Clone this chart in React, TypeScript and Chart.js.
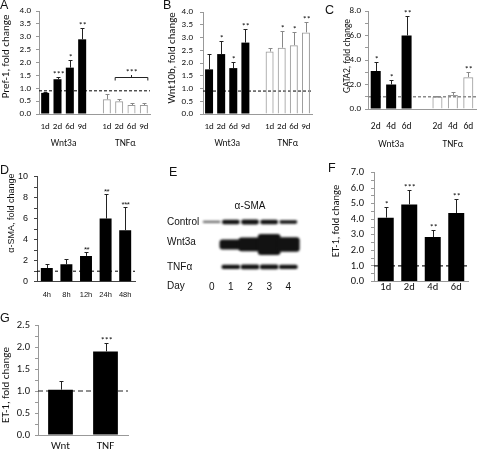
import React, { useEffect, useRef } from 'react';
import { Chart, registerables } from 'chart.js';
Chart.register(...registerables);

const CAL = 'Carlito, Lato, "Open Sans", sans-serif';
const HEL = '"Liberation Sans", Arial, Helvetica, sans-serif';

// ---------- Panel A: Pref-1 ----------
const aDays = ['1d', '2d', '6d', '9d'];
const aWnt = [0.82, 1.35, 1.8, 2.9];
const aWntErr = [0.85, 1.42, 2.1, 3.35];
const aWntStars = ['', '***', '*', '**'];
const aTnf = [0.57, 0.5, 0.35, 0.35];
const aTnfErr = [0.78, 0.58, 0.42, 0.42];
const aTnfStars = ['', '', '', ''];
const aBaseline = 0.9;
const aBracketValue = 1.42;
const aBracketStars = '***';

// ---------- Panel B: Wnt10b ----------
const bDays = ['1d', '2d', '6d', '9d'];
const bWnt = [1.75, 2.35, 1.8, 2.8];
const bWntErr = [2.35, 2.85, 2.05, 3.35];
const bWntStars = ['', '*', '*', '**'];
const bTnf = [2.45, 2.6, 2.7, 3.2];
const bTnfErr = [2.6, 3.25, 3.2, 3.6];
const bTnfStars = ['', '*', '*', '**'];
const bBaseline = 0.9;

// ---------- Panel C: GATA2 ----------
const cDays = ['2d', '4d', '6d'];
const cWnt = [3.1, 2.0, 6.0];
const cWntErr = [3.8, 2.35, 7.6];
const cWntStars = ['*', '*', '**'];
const cTnf = [1.0, 1.15, 2.6];
const cTnfErr = [1.05, 1.35, 3.05];
const cTnfStars = ['', '', '**'];
const cBaseline = 1.0;

// ---------- Panel D: alpha-SMA ----------
const dTimes = ['4h', '8h', '12h', '24h', '48h'];
const dSma = [1.3, 1.65, 2.45, 6.0, 4.9];
const dSmaErr = [1.7, 2.2, 2.85, 8.3, 7.1];
const dStars = ['', '', '**', '**', '***'];
const dBaseline = 1.0;

// ---------- Panel E: western blot (band thickness, row units) ----------
const eLanes = [0, 1, 2, 3, 4];
const eRows = ['Control', 'Wnt3a', 'TNFα'];
const eControl = [0.07, 0.17, 0.19, 0.17, 0.13];
const eWnt3a = [0, 0.42, 0.58, 0.9, 0.62];
const eTnf = [0, 0.16, 0.18, 0.18, 0.16];

// ---------- Panel F: ET-1 (Wnt3a time course) ----------
const fDays = ['1d', '2d', '4d', '6d'];
const fEt1 = [4.1, 4.95, 2.85, 4.4];
const fEt1Err = [4.8, 5.9, 3.3, 5.3];
const fStars = ['*', '***', '**', '**'];
const fBaseline = 1.0;

// ---------- Panel G: ET-1 ----------
const gGroups = ['Wnt', 'TNF'];
const gEt1 = [1.03, 1.9];
const gEt1Err = [1.22, 2.1];
const gStars = ['', '***'];
const gBaseline = 1.0;

type Spec = {
  box: [number, number, number, number];
  padTop: number; padRight: number; yWidth: number; xHeight: number;
  labels: string[]; values: (number | null)[]; errs: (number | null)[];
  stars: string[]; open: boolean[];
  yMax: number; yStep: number; labelEvery: number; decimals: number; yPad: number;
  baseline: number; baseColor: string; baseDash: number[]; baseWidth: number;
  barPct: number; font: string; tickSize: number; xSize: number; xPad: number;
  titleSize: number; starSize: number; title: string; titleX: number; titleDy: number;
  axisColor: string; textColor: string;
  groups?: { label: string; from: number; to: number }[]; groupDy?: number; groupSize?: number;
  bracket?: { from: number; to: number; value: number; label: string };
};

const gap = <T,>(a: T[], b: T[], g: T): T[] => [...a, g, ...b];

const specA: Spec = {
  box: [0, 0, 155, 150], padTop: 11, padRight: 5, yWidth: 39, xHeight: 36,
  labels: gap(aDays, aDays, ''), values: gap<number | null>(aWnt, aTnf, null),
  errs: gap<number | null>(aWntErr, aTnfErr, null), stars: gap(aWntStars, aTnfStars, ''),
  open: gap(aWnt.map(() => false), aTnf.map(() => true), false),
  yMax: 4, yStep: 0.5, labelEvery: 0.5, decimals: 1, yPad: 5,
  baseline: aBaseline, baseColor: '#000', baseDash: [3, 2], baseWidth: 1,
  barPct: 0.65, font: CAL, tickSize: 9, xSize: 9, xPad: 7, titleSize: 11, starSize: 9,
  title: 'Pref-1, fold change', titleX: 6, titleDy: -6, axisColor: '#999', textColor: '#111',
  groups: [{ label: 'Wnt3a', from: 0, to: 3 }, { label: 'TNFα', from: 5, to: 8 }], groupDy: 30, groupSize: 9.5,
  bracket: { from: 6, to: 8, value: aBracketValue, label: aBracketStars },
};

const specB: Spec = {
  box: [158, 0, 160, 150], padTop: 12, padRight: 6, yWidth: 45, xHeight: 36,
  labels: gap(bDays, bDays, ''), values: gap<number | null>(bWnt, bTnf, null),
  errs: gap<number | null>(bWntErr, bTnfErr, null), stars: gap(bWntStars, bTnfStars, ''),
  open: gap(bWnt.map(() => false), bTnf.map(() => true), false),
  yMax: 4, yStep: 0.5, labelEvery: 0.5, decimals: 1, yPad: 7,
  baseline: bBaseline, baseColor: '#000', baseDash: [3, 2], baseWidth: 1,
  barPct: 0.66, font: CAL, tickSize: 9, xSize: 9, xPad: 7, titleSize: 10.8, starSize: 9,
  title: 'Wnt10b, fold change', titleX: 14, titleDy: -5, axisColor: '#999', textColor: '#111',
  groups: [{ label: 'Wnt3a', from: 0, to: 3 }, { label: 'TNFα', from: 5, to: 8 }], groupDy: 30, groupSize: 9.5,
};

const specC: Spec = {
  box: [318, 0, 159, 150], padTop: 11, padRight: 1, yWidth: 50, xHeight: 41,
  labels: gap(cDays, cDays, ''), values: gap<number | null>(cWnt, cTnf, null),
  errs: gap<number | null>(cWntErr, cTnfErr, null), stars: gap(cWntStars, cTnfStars, ''),
  open: gap(cWnt.map(() => false), cTnf.map(() => true), false),
  yMax: 8, yStep: 1, labelEvery: 2, decimals: 1, yPad: 4,
  baseline: cBaseline, baseColor: '#8a8a8a', baseDash: [3, 2], baseWidth: 1.5,
  barPct: 0.65, font: CAL, tickSize: 9, xSize: 9.5, xPad: 12, titleSize: 9.5, starSize: 9,
  title: 'GATA2, fold change', titleX: 30, titleDy: -4, axisColor: '#999', textColor: '#111',
  groups: [{ label: 'Wnt3a', from: 0, to: 2 }, { label: 'TNFα', from: 4, to: 6 }], groupDy: 36, groupSize: 9.5,
};

const specD: Spec = {
  box: [0, 150, 158, 150], padTop: 26.5, padRight: 23, yWidth: 37, xHeight: 18.3,
  labels: dTimes, values: dSma, errs: dSmaErr, stars: dStars, open: dSma.map(() => false),
  yMax: 10, yStep: 1, labelEvery: 2, decimals: 0, yPad: 6,
  baseline: dBaseline, baseColor: '#000', baseDash: [3, 3], baseWidth: 1,
  barPct: 0.61, font: HEL, tickSize: 9, xSize: 7.5, xPad: 8.5, titleSize: 9, starSize: 8,
  title: 'α-SMA, fold change', titleX: 12, titleDy: -16, axisColor: '#444', textColor: '#111',
};

const specF: Spec = {
  box: [318, 150, 159, 150], padTop: 22.5, padRight: 9, yWidth: 56, xHeight: 18.5,
  labels: fDays, values: fEt1, errs: fEt1Err, stars: fStars, open: fEt1.map(() => false),
  yMax: 7, yStep: 0.5, labelEvery: 1, decimals: 1, yPad: 7,
  baseline: fBaseline, baseColor: '#222', baseDash: [5, 3], baseWidth: 1.2,
  barPct: 0.68, font: CAL, tickSize: 10.5, xSize: 10.5, xPad: 0, titleSize: 10.5, starSize: 9,
  title: 'ET-1, fold change', titleX: 18.7, titleDy: -6, axisColor: '#999', textColor: '#111',
};

const specG: Spec = {
  box: [0, 300, 160, 152], padTop: 25, padRight: 32, yWidth: 38, xHeight: 17,
  labels: gGroups, values: gEt1, errs: gEt1Err, stars: gStars, open: gEt1.map(() => false),
  yMax: 2.5, yStep: 0.25, labelEvery: 0.5, decimals: 1, yPad: 5,
  baseline: gBaseline, baseColor: '#222', baseDash: [5, 3], baseWidth: 1.2,
  barPct: 0.55, font: CAL, tickSize: 10.5, xSize: 11, xPad: 5, titleSize: 11, starSize: 9,
  title: 'ET-1, fold change', titleX: 6, titleDy: 5, axisColor: '#999', textColor: '#111',
};

const isMult = (v: number, m: number) => Math.abs(v / m - Math.round(v / m)) < 1e-6;

function BarPanel({ spec }: { spec: Spec }) {
  const ref = useRef<HTMLCanvasElement>(null);
  useEffect(() => {
    const s = spec;
    const starText = (ctx: any, text: string, px: number, py: number) => {
      ctx.fillStyle = s.textColor; ctx.font = `${s.starSize}px ${s.font}`;
      ctx.textAlign = 'center'; ctx.textBaseline = 'alphabetic';
      try { ctx.letterSpacing = '-0.5px'; } catch (e) { /* ignore */ }
      ctx.fillText(text, px, py);
      try { ctx.letterSpacing = '0px'; } catch (e) { /* ignore */ }
    };
    const overlay = {
      id: 'overlay',
      beforeDatasetsDraw(chart: any) {
        const { ctx, chartArea: ca } = chart;
        const py = chart.scales.y.getPixelForValue(s.baseline);
        ctx.save();
        ctx.strokeStyle = s.baseColor; ctx.lineWidth = s.baseWidth; ctx.setLineDash(s.baseDash);
        ctx.beginPath(); ctx.moveTo(ca.left, py); ctx.lineTo(ca.right, py); ctx.stroke();
        ctx.restore();
      },
      afterDatasetsDraw(chart: any) {
        const { ctx } = chart;
        const x = chart.scales.x, y = chart.scales.y;
        const slot = x.getPixelForValue(1) - x.getPixelForValue(0);
        const half = (slot * s.barPct) / 2;
        ctx.save();
        ctx.lineWidth = 1;
        s.values.forEach((v, i) => {
          const e = s.errs[i];
          if (v == null || e == null) return;
          const px = Math.round(x.getPixelForValue(i)) + 0.5;
          const y0 = y.getPixelForValue(v), y1 = Math.round(y.getPixelForValue(e)) + 0.5;
          ctx.strokeStyle = s.open[i] ? '#888' : '#222';
          ctx.beginPath(); ctx.moveTo(px, y0); ctx.lineTo(px, y1);
          ctx.moveTo(px - 2, y1); ctx.lineTo(px + 2, y1); ctx.stroke();
          if (s.stars[i]) starText(ctx, s.stars[i], px, y1 - 1);
        });
        if (s.bracket) {
          const b = s.bracket;
          const x1 = x.getPixelForValue(b.from) - half, x2 = x.getPixelForValue(b.to) + half;
          const py = Math.round(y.getPixelForValue(b.value)) + 0.5;
          const mid = (x1 + x2) / 2;
          ctx.strokeStyle = '#222';
          ctx.beginPath();
          ctx.moveTo(x1, py + 3); ctx.lineTo(x1, py); ctx.lineTo(x2, py); ctx.lineTo(x2, py + 3);
          ctx.moveTo(mid, py); ctx.lineTo(mid, py - 2.5);
          ctx.stroke();
          starText(ctx, b.label, mid, py - 3);
        }
        ctx.restore();
      },
      afterDraw(chart: any) {
        const { ctx, chartArea: ca } = chart;
        const x = chart.scales.x;
        ctx.save();
        ctx.fillStyle = s.textColor;
        if (s.groups) {
          ctx.font = `${s.groupSize}px ${s.font}`;
          ctx.textAlign = 'center'; ctx.textBaseline = 'middle';
          s.groups.forEach((g) => {
            const gx = (x.getPixelForValue(g.from) + x.getPixelForValue(g.to)) / 2;
            ctx.fillText(g.label, gx, ca.bottom + (s.groupDy || 0));
          });
        }
        ctx.translate(s.titleX, (ca.top + ca.bottom) / 2 + s.titleDy);
        ctx.rotate(-Math.PI / 2);
        ctx.font = `${s.titleSize}px ${s.font}`;
        ctx.textAlign = 'center'; ctx.textBaseline = 'middle';
        ctx.fillText(s.title, 0, 0);
        ctx.restore();
      },
    };
    const chart = new Chart(ref.current as HTMLCanvasElement, {
      type: 'bar',
      data: {
        labels: s.labels,
        datasets: [{
          data: s.values as any,
          backgroundColor: s.open.map((o) => (o ? 'rgba(255,255,255,0)' : '#000')),
          borderColor: s.open.map((o) => (o ? '#9a9a9a' : '#000')),
          borderWidth: s.open.map((o) => (o ? 1 : 0)),
          categoryPercentage: 1,
          barPercentage: s.barPct,
        }],
      },
      options: {
        animation: false, responsive: false, maintainAspectRatio: false, events: [],
        layout: { padding: { top: s.padTop, right: s.padRight, left: 0, bottom: 0 } },
        plugins: { legend: { display: false }, tooltip: { enabled: false }, title: { display: false } },
        scales: {
          x: {
            grid: { display: false, drawTicks: false },
            border: { display: true, color: s.axisColor, width: 1 },
            ticks: { padding: s.xPad, color: s.textColor, font: { family: s.font, size: s.xSize }, maxRotation: 0, autoSkip: false },
            afterFit: (sc: any) => { sc.height = s.xHeight; sc.paddingLeft = 0; sc.paddingRight = 0; sc.paddingTop = 0; sc.paddingBottom = 0; },
          },
          y: {
            min: 0, max: s.yMax,
            grid: { display: true, drawOnChartArea: false, drawTicks: true, tickLength: 3, color: s.axisColor },
            border: { display: true, color: s.axisColor, width: 1 },
            ticks: {
              stepSize: s.yStep, padding: s.yPad, color: s.textColor, autoSkip: false,
              font: { family: s.font, size: s.tickSize },
              callback: (v: any) => (isMult(Number(v), s.labelEvery) ? Number(v).toFixed(s.decimals) : ''),
            },
            afterFit: (sc: any) => { sc.width = s.yWidth; sc.paddingTop = 0; sc.paddingBottom = 0; sc.paddingLeft = 0; sc.paddingRight = 0; },
          },
        },
      } as any,
      plugins: [overlay],
    });
    return () => chart.destroy();
  }, [spec]);
  const [l, t, w, h] = spec.box;
  return <canvas ref={ref} width={w} height={h} style={{ position: 'absolute', left: l, top: t, width: w, height: h }} />;
}

function BlotPanel() {
  const ref = useRef<HTMLCanvasElement>(null);
  useEffect(() => {
    const rows = [eControl, eWnt3a, eTnf];
    const widths = [17, 22, 18];
    const ds = rows.map((r, ri) => ({
      data: eLanes.map((lane, li) => ({ x: lane, y: r[li] > 0 ? [ri - r[li] / 2, ri + r[li] / 2] : null })),
      backgroundColor: eLanes.map((lane, li) => (ri === 0 && li === 0 ? '#6a6a6a' : '#121212')),
      borderWidth: 0,
      borderRadius: 3,
      borderSkipped: false,
      barThickness: widths[ri],
      grouped: false,
    }));
    const blot = {
      id: 'blot',
      beforeDatasetsDraw(chart: any) { chart.ctx.save(); chart.ctx.filter = 'blur(1px)'; },
      afterDatasetsDraw(chart: any) { chart.ctx.restore(); },
      afterDraw(chart: any) {
        const { ctx } = chart;
        const x = chart.scales.x, y = chart.scales.y;
        ctx.save();
        ctx.fillStyle = '#111';
        ctx.font = `10px ${HEL}`;
        ctx.textAlign = 'left'; ctx.textBaseline = 'middle';
        eRows.forEach((r, i) => ctx.fillText(r, 7, y.getPixelForValue(i) + (i === 1 ? -2 : 0)));
        ctx.fillText('Day', 7, x.top + 6);
        ctx.textAlign = 'center';
        ctx.fillText('α-SMA', x.getPixelForValue(2), y.getPixelForValue(-0.7));
        ctx.restore();
      },
    };
    const chart = new Chart(ref.current as HTMLCanvasElement, {
      type: 'bar',
      data: { datasets: ds as any },
      options: {
        animation: false, responsive: false, maintainAspectRatio: false, events: [],
        layout: { padding: { top: 38.25, right: 0, left: 0, bottom: 0 } },
        plugins: { legend: { display: false }, tooltip: { enabled: false } },
        scales: {
          x: {
            type: 'linear', min: -2.7, max: 5.55, offset: false,
            grid: { display: false, drawTicks: false }, border: { display: false },
            ticks: { padding: 1, color: '#111', font: { family: HEL, size: 10 } },
            afterBuildTicks: (sc: any) => { sc.ticks = eLanes.map((v) => ({ value: v })); },
            afterFit: (sc: any) => { sc.height = 20; sc.paddingLeft = 0; sc.paddingRight = 0; },
          },
          y: { type: 'linear', reverse: true, min: -1.5, max: 2.58, display: false },
        },
      } as any,
      plugins: [blot],
    });
    return () => chart.destroy();
  }, []);
  return <canvas ref={ref} width={158} height={150} style={{ position: 'absolute', left: 160, top: 150, width: 158, height: 150 }} />;
}

const letters: [string, number, number][] = [
  ['A', 0, -2], ['B', 163, -2], ['C', 325, 3], ['D', 0, 163], ['E', 169, 165], ['F', 328, 161], ['G', 0, 311],
];

export default function App() {
  return (
    <div style={{ position: 'absolute', left: 0, top: 0, width: 477, height: 452, background: '#fff', overflow: 'hidden' }}>
      <BarPanel spec={specA} />
      <BarPanel spec={specB} />
      <BarPanel spec={specC} />
      <BarPanel spec={specD} />
      <BlotPanel />
      <BarPanel spec={specF} />
      <BarPanel spec={specG} />
      {letters.map(([t, l, tp]) => (
        <div key={t} style={{ position: 'absolute', left: l, top: tp, font: `12.5px ${HEL}`, lineHeight: '14px', color: '#111' }}>{t}</div>
      ))}
    </div>
  );
}
